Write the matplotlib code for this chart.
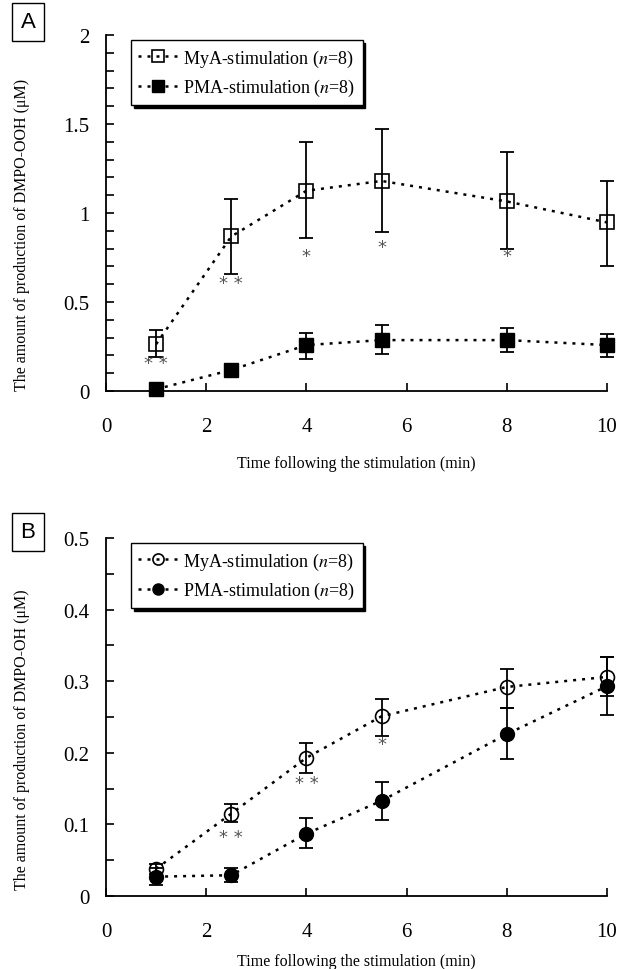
import numpy as np
import matplotlib.pyplot as plt
from matplotlib.ticker import MultipleLocator

plt.rcParams["font.family"] = ["Liberation Serif", "DejaVu Serif"]
plt.rcParams["mathtext.fontset"] = "stix"

time = [1, 2.5, 4, 5.5, 8, 10]

# Panel A: DMPO-OOH (uM)
ooh_mya = [0.263, 0.868, 1.125, 1.18, 1.065, 0.947]
ooh_mya_hi = [0.342, 1.08, 1.40, 1.47, 1.34, 1.18]
ooh_mya_lo = [0.19, 0.66, 0.857, 0.896, 0.80, 0.70]
ooh_pma = [0.01, 0.118, 0.258, 0.286, 0.286, 0.258]
ooh_pma_hi = [0.01, 0.15, 0.325, 0.37, 0.353, 0.32]
ooh_pma_lo = [0.01, 0.08, 0.18, 0.207, 0.218, 0.19]
ooh_star_x = [1, 2.5, 4, 5.5, 8]
ooh_star_y = [0.16, 0.605, 0.76, 0.81, 0.76]
ooh_star_txt = ["**", "**", "*", "*", "*"]
ooh_yticks = [0, 0.5, 1, 1.5, 2]
ooh_ylabels = ["0", "0.5", "1", "1.5", "2"]

# Panel B: DMPO-OH (uM)
oh_mya = [0.038, 0.115, 0.193, 0.251, 0.292, 0.306]
oh_mya_hi = [0.045, 0.128, 0.214, 0.275, 0.317, 0.334]
oh_mya_lo = [0.031, 0.103, 0.172, 0.223, 0.263, 0.279]
oh_pma = [0.027, 0.029, 0.087, 0.133, 0.226, 0.293]
oh_pma_hi = [0.039, 0.039, 0.109, 0.159, 0.263, 0.334]
oh_pma_lo = [0.015, 0.019, 0.067, 0.106, 0.191, 0.253]
oh_star_x = [2.5, 4, 5.5]
oh_star_y = [0.082, 0.158, 0.212]
oh_star_txt = ["**", "**", "*"]
oh_yticks = [0, 0.1, 0.2, 0.3, 0.4, 0.5]
oh_ylabels = ["0", "0.1", "0.2", "0.3", "0.4", "0.5"]

xticks = [0, 2, 4, 6, 8, 10]

fig = plt.figure(figsize=(6.18, 9.70), dpi=100)
axA = fig.add_axes([106 / 618, 1 - 392 / 970, 501 / 618, 356 / 970])
axB = fig.add_axes([106 / 618, 1 - 897 / 970, 501 / 618, 358 / 970])

LS = (0, (1.2, 2.4))


def panel(ax, mya, hi1, lo1, pma, hi2, lo2, m, sx, sy, stxt, yticks, ylabs, yminor, ylabel):
    mya, pma = np.array(mya), np.array(pma)
    e1 = [mya - np.array(lo1), np.array(hi1) - mya]
    e2 = [pma - np.array(lo2), np.array(hi2) - pma]
    for y, e in [(mya, e1), (pma, e2)]:
        eb = ax.errorbar(time, y, yerr=e, fmt="none", ecolor="black", elinewidth=1.3,
                         capsize=5, capthick=1.3, zorder=2)
        for art in eb.lines[1] + eb.lines[2]:
            art.set_clip_on(False)
    ax.plot(time, mya, color="black", linestyle=LS, linewidth=1.8, marker=m,
            markersize=10, markerfacecolor="none", markeredgecolor="black",
            markeredgewidth=1.2, label="MyA-stimulation ($n$=8)", zorder=3, clip_on=False)
    ax.plot(time, pma, color="black", linestyle=LS, linewidth=1.8, marker=m,
            markersize=10, markerfacecolor="black", markeredgecolor="black",
            label="PMA-stimulation ($n$=8)", zorder=3, clip_on=False)
    for x, y, t in zip(sx, sy, stxt):
        ax.text(x, y, " ".join(t), ha="center", va="center", fontsize=13,
                color="#555555", family="DejaVu Sans")
    ax.set_xlim(0, 10)
    ax.set_ylim(yticks[0], yticks[-1])
    ax.set_xticks(xticks)
    ax.set_yticks(yticks)
    ax.set_yticklabels(ylabs)
    ax.yaxis.set_minor_locator(MultipleLocator(yminor))
    ax.tick_params(axis="both", which="both", direction="in", length=6, width=1.2,
                   labelsize=15)
    ax.tick_params(axis="x", pad=19)
    ax.tick_params(axis="y", pad=12)
    for s in ["top", "right"]:
        ax.spines[s].set_visible(False)
    for s in ["left", "bottom"]:
        ax.spines[s].set_linewidth(1.3)
    ax.set_xlabel("Time following the stimulation (min)", fontsize=11.5)
    ax.set_ylabel(ylabel, fontsize=11.5)
    ax.yaxis.set_label_coords(-0.152, 0.44)
    leg = ax.legend(loc="upper left", bbox_to_anchor=(0.05, 0.985), fontsize=13,
                    frameon=True, fancybox=False, edgecolor="black",
                    shadow={"facecolor": "black", "edgecolor": "black", "alpha": 1},
                    handlelength=2.2, handletextpad=0.3, borderpad=0.4,
                    labelspacing=0.45, markerscale=0.8, borderaxespad=0)
    leg.get_frame().set_linewidth(1.0)
    return ax


panel(axA, ooh_mya, ooh_mya_hi, ooh_mya_lo, ooh_pma, ooh_pma_hi, ooh_pma_lo,
      "s", ooh_star_x, ooh_star_y, ooh_star_txt, ooh_yticks, ooh_ylabels, 0.1,
      "The amount of production of DMPO-OOH (μM)")
axA.xaxis.set_label_coords(0.5, -0.18)

panel(axB, oh_mya, oh_mya_hi, oh_mya_lo, oh_pma, oh_pma_hi, oh_pma_lo,
      "o", oh_star_x, oh_star_y, oh_star_txt, oh_yticks, oh_ylabels, 0.05,
      "The amount of production of DMPO-OH (μM)")
axB.xaxis.set_label_coords(0.5, -0.16)

for lab, y in [("A", 1 - 23 / 970), ("B", 1 - 533 / 970)]:
    fig.text(28 / 618, y, lab, ha="center", va="center", fontsize=16,
             family="Liberation Sans",
             bbox=dict(boxstyle="square,pad=0.4", facecolor="white",
                       edgecolor="black", linewidth=1.0))

fig.savefig("out.png", dpi=100)
